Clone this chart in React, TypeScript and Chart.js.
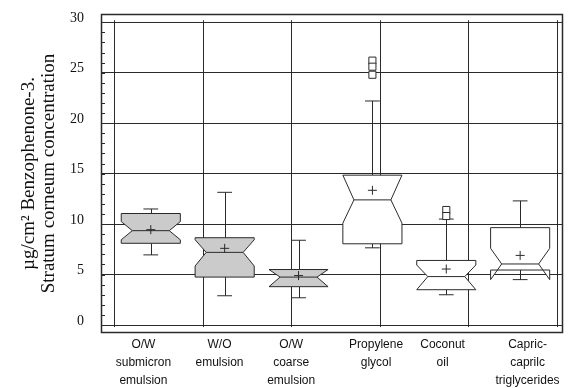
import { useEffect, useRef } from 'react';
import { Chart, registerables } from 'chart.js';

Chart.register(...registerables);

// ---- data ----
const categories: string[][] = [
  ['O/W', 'submicron', 'emulsion'],
  ['W/O', 'emulsion'],
  ['O/W', 'coarse', 'emulsion'],
  ['Propylene', 'glycol'],
  ['Coconut', 'oil'],
  ['Capric-', 'caprilc', 'triglycerides'],
];
const q1 = [8.1, 4.75, 3.8, 8.05, 3.5, 5.45];
const q3 = [11.05, 8.65, 5.5, 14.85, 6.4, 9.65];
const median = [9.35, 7.2, 4.75, 12.4, 4.8, 6.05];
const notchLo = [8.45, 5.85, 3.8, 10.1, 3.5, 4.5];
const notchHi = [10.25, 8.45, 5.5, 14.85, 5.95, 7.6];
const whiskerLo = [6.95, 2.9, 2.7, 7.65, 3.0, 4.5];
const whiskerHi = [11.5, 13.15, 8.4, 22.2, 10.5, 12.3];
const means = [9.45, 7.6, 4.9, 13.35, 5.55, 6.9];
const outliers: number[][] = [[], [], [], [26.2, 25.6, 24.8], [11.4, 10.8], []];
const shaded = [true, true, true, false, false, false];
const labelShift = [-0.1, -0.07, -0.1, 0.05, -0.05, 0.1];
const yTicks = [0, 5, 10, 15, 20, 25, 30];
const xGrid = [-0.5, 0.7, 1.9, 3.1, 4.3, 5.5];
const yTitle = ['µg/cm² Benzophenone-3.', 'Stratum corneum concentration'];

// ---- style ----
const LINE = '#2a2a2a';
const TEXT = '#111';
const SHADE = '#cbcbcb';
const BOX_HALF = 0.4;
const NOTCH_INSET = 0.15;
const CAP_HALF = 0.1;
const SERIF = '"Liberation Serif", "Times New Roman", Times, serif';
const SANS = '"Liberation Sans", Arial, Helvetica, sans-serif';

const boxPlugin = {
  id: 'notchedBoxes',
  beforeDatasetsDraw(chart: any) {
    const { ctx, chartArea: a, scales } = chart;
    const x = scales.x;
    const y = scales.y;
    const seg = (x1: number, y1: number, x2: number, y2: number) => {
      ctx.beginPath();
      ctx.moveTo(x1, y1);
      ctx.lineTo(x2, y2);
      ctx.stroke();
    };
    ctx.save();
    ctx.strokeStyle = LINE;
    ctx.lineWidth = 1;
    // vertical grid lines
    xGrid.forEach((v) => {
      const px = Math.round(x.getPixelForValue(v)) + 0.5;
      seg(px, y.getPixelForValue(30.2), px, y.getPixelForValue(-0.2));
    });
    // minor ticks on the left border
    for (let v = 0; v <= 30; v++) {
      const py = Math.round(y.getPixelForValue(v)) + 0.5;
      seg(a.left, py, a.left + 4, py);
    }
    // frame
    ctx.lineWidth = 1.5;
    ctx.strokeRect(a.left + 0.5, a.top + 0.5, a.right - a.left - 1, a.bottom - a.top - 1);
    ctx.lineWidth = 1;

    categories.forEach((_, i) => {
      const L = x.getPixelForValue(i - BOX_HALF);
      const R = x.getPixelForValue(i + BOX_HALF);
      const Li = x.getPixelForValue(i - BOX_HALF + NOTCH_INSET);
      const Ri = x.getPixelForValue(i + BOX_HALF - NOTCH_INSET);
      const C = Math.round(x.getPixelForValue(i)) + 0.5;
      const cL = x.getPixelForValue(i - CAP_HALF);
      const cR = x.getPixelForValue(i + CAP_HALF);
      const yQ1 = y.getPixelForValue(q1[i]);
      const yQ3 = y.getPixelForValue(q3[i]);
      const yMed = y.getPixelForValue(median[i]);
      const yNLo = y.getPixelForValue(notchLo[i]);
      const yNHi = y.getPixelForValue(notchHi[i]);
      const yWLo = y.getPixelForValue(whiskerLo[i]);
      const yWHi = y.getPixelForValue(whiskerHi[i]);

      // whiskers
      seg(C, yQ3, C, yWHi);
      seg(cL, yWHi, cR, yWHi);
      seg(C, yQ1, C, yWLo);
      seg(cL, yWLo, cR, yWLo);

      // notched box
      ctx.beginPath();
      ctx.moveTo(L, yQ1);
      ctx.lineTo(L, yNLo);
      ctx.lineTo(Li, yMed);
      ctx.lineTo(L, yNHi);
      ctx.lineTo(L, yQ3);
      ctx.lineTo(R, yQ3);
      ctx.lineTo(R, yNHi);
      ctx.lineTo(Ri, yMed);
      ctx.lineTo(R, yNLo);
      ctx.lineTo(R, yQ1);
      ctx.closePath();
      ctx.fillStyle = shaded[i] ? SHADE : '#ffffff';
      ctx.fill();
      ctx.stroke();
      // median
      seg(Li, yMed, Ri, yMed);
    });
    ctx.restore();
  },
};

export default function App() {
  const ref = useRef<HTMLCanvasElement>(null);
  useEffect(() => {
    const meanPts = means.map((m, i) => ({ x: i, y: m }));
    const outPts: { x: number; y: number }[] = [];
    outliers.forEach((arr, i) => arr.forEach((v) => outPts.push({ x: i, y: v })));

    const chart = new Chart(ref.current as HTMLCanvasElement, {
      type: 'scatter',
      data: {
        datasets: [
          {
            label: 'mean',
            data: meanPts,
            pointStyle: 'cross',
            radius: 4.5,
            borderColor: LINE,
            borderWidth: 1,
            backgroundColor: LINE,
          },
          {
            label: 'outliers',
            data: outPts,
            pointStyle: 'rect',
            radius: 5,
            borderColor: LINE,
            borderWidth: 1,
            backgroundColor: '#ffffff',
          },
        ],
      },
      plugins: [boxPlugin],
      options: {
        animation: false,
        responsive: false,
        devicePixelRatio: 1,
        events: [],
        layout: { padding: { top: 14, right: 1, left: 0, bottom: 0 } },
        plugins: {
          legend: { display: false },
          tooltip: { enabled: false },
        },
        scales: {
          x: {
            type: 'linear',
            min: -0.674,
            max: 5.58,
            grid: { display: false },
            border: { display: false },
            afterBuildTicks: (s: any) => {
              s.ticks = categories.map((_, i) => ({ value: i + labelShift[i] }));
            },
            afterFit: (s: any) => {
              s.height = 55;
              s.paddingLeft = 0;
              s.paddingRight = 0;
            },
            ticks: {
              autoSkip: false,
              maxRotation: 0,
              minRotation: 0,
              padding: -5,
              color: TEXT,
              font: { family: SANS, size: 12, lineHeight: 1.5 },
              callback: (_v: any, idx: number) => categories[idx],
            },
          },
          y: {
            type: 'linear',
            min: -0.79,
            max: 30.82,
            afterBuildTicks: (s: any) => {
              s.ticks = yTicks.map((v) => ({ value: v }));
            },
            afterFit: (s: any) => {
              s.width = 101;
              s.paddingTop = 0;
              s.paddingBottom = 0;
            },
            grid: { color: LINE, lineWidth: 1, drawTicks: false },
            border: { display: false },
            ticks: {
              padding: 17,
              labelOffset: -4,
              color: TEXT,
              font: { family: SERIF, size: 14 },
              callback: (v: any) => String(v),
            },
            title: {
              display: true,
              text: yTitle,
              color: TEXT,
              font: { family: SERIF, size: 19, lineHeight: 1.05 },
              padding: { top: 19, bottom: 0 },
            },
          },
        },
      },
    } as any);
    return () => chart.destroy();
  }, []);

  return (
    <div style={{ position: 'fixed', left: 0, top: 0, width: 569, height: 388, background: '#fff' }}>
      <canvas ref={ref} width={569} height={388} style={{ display: 'block' }} />
    </div>
  );
}
